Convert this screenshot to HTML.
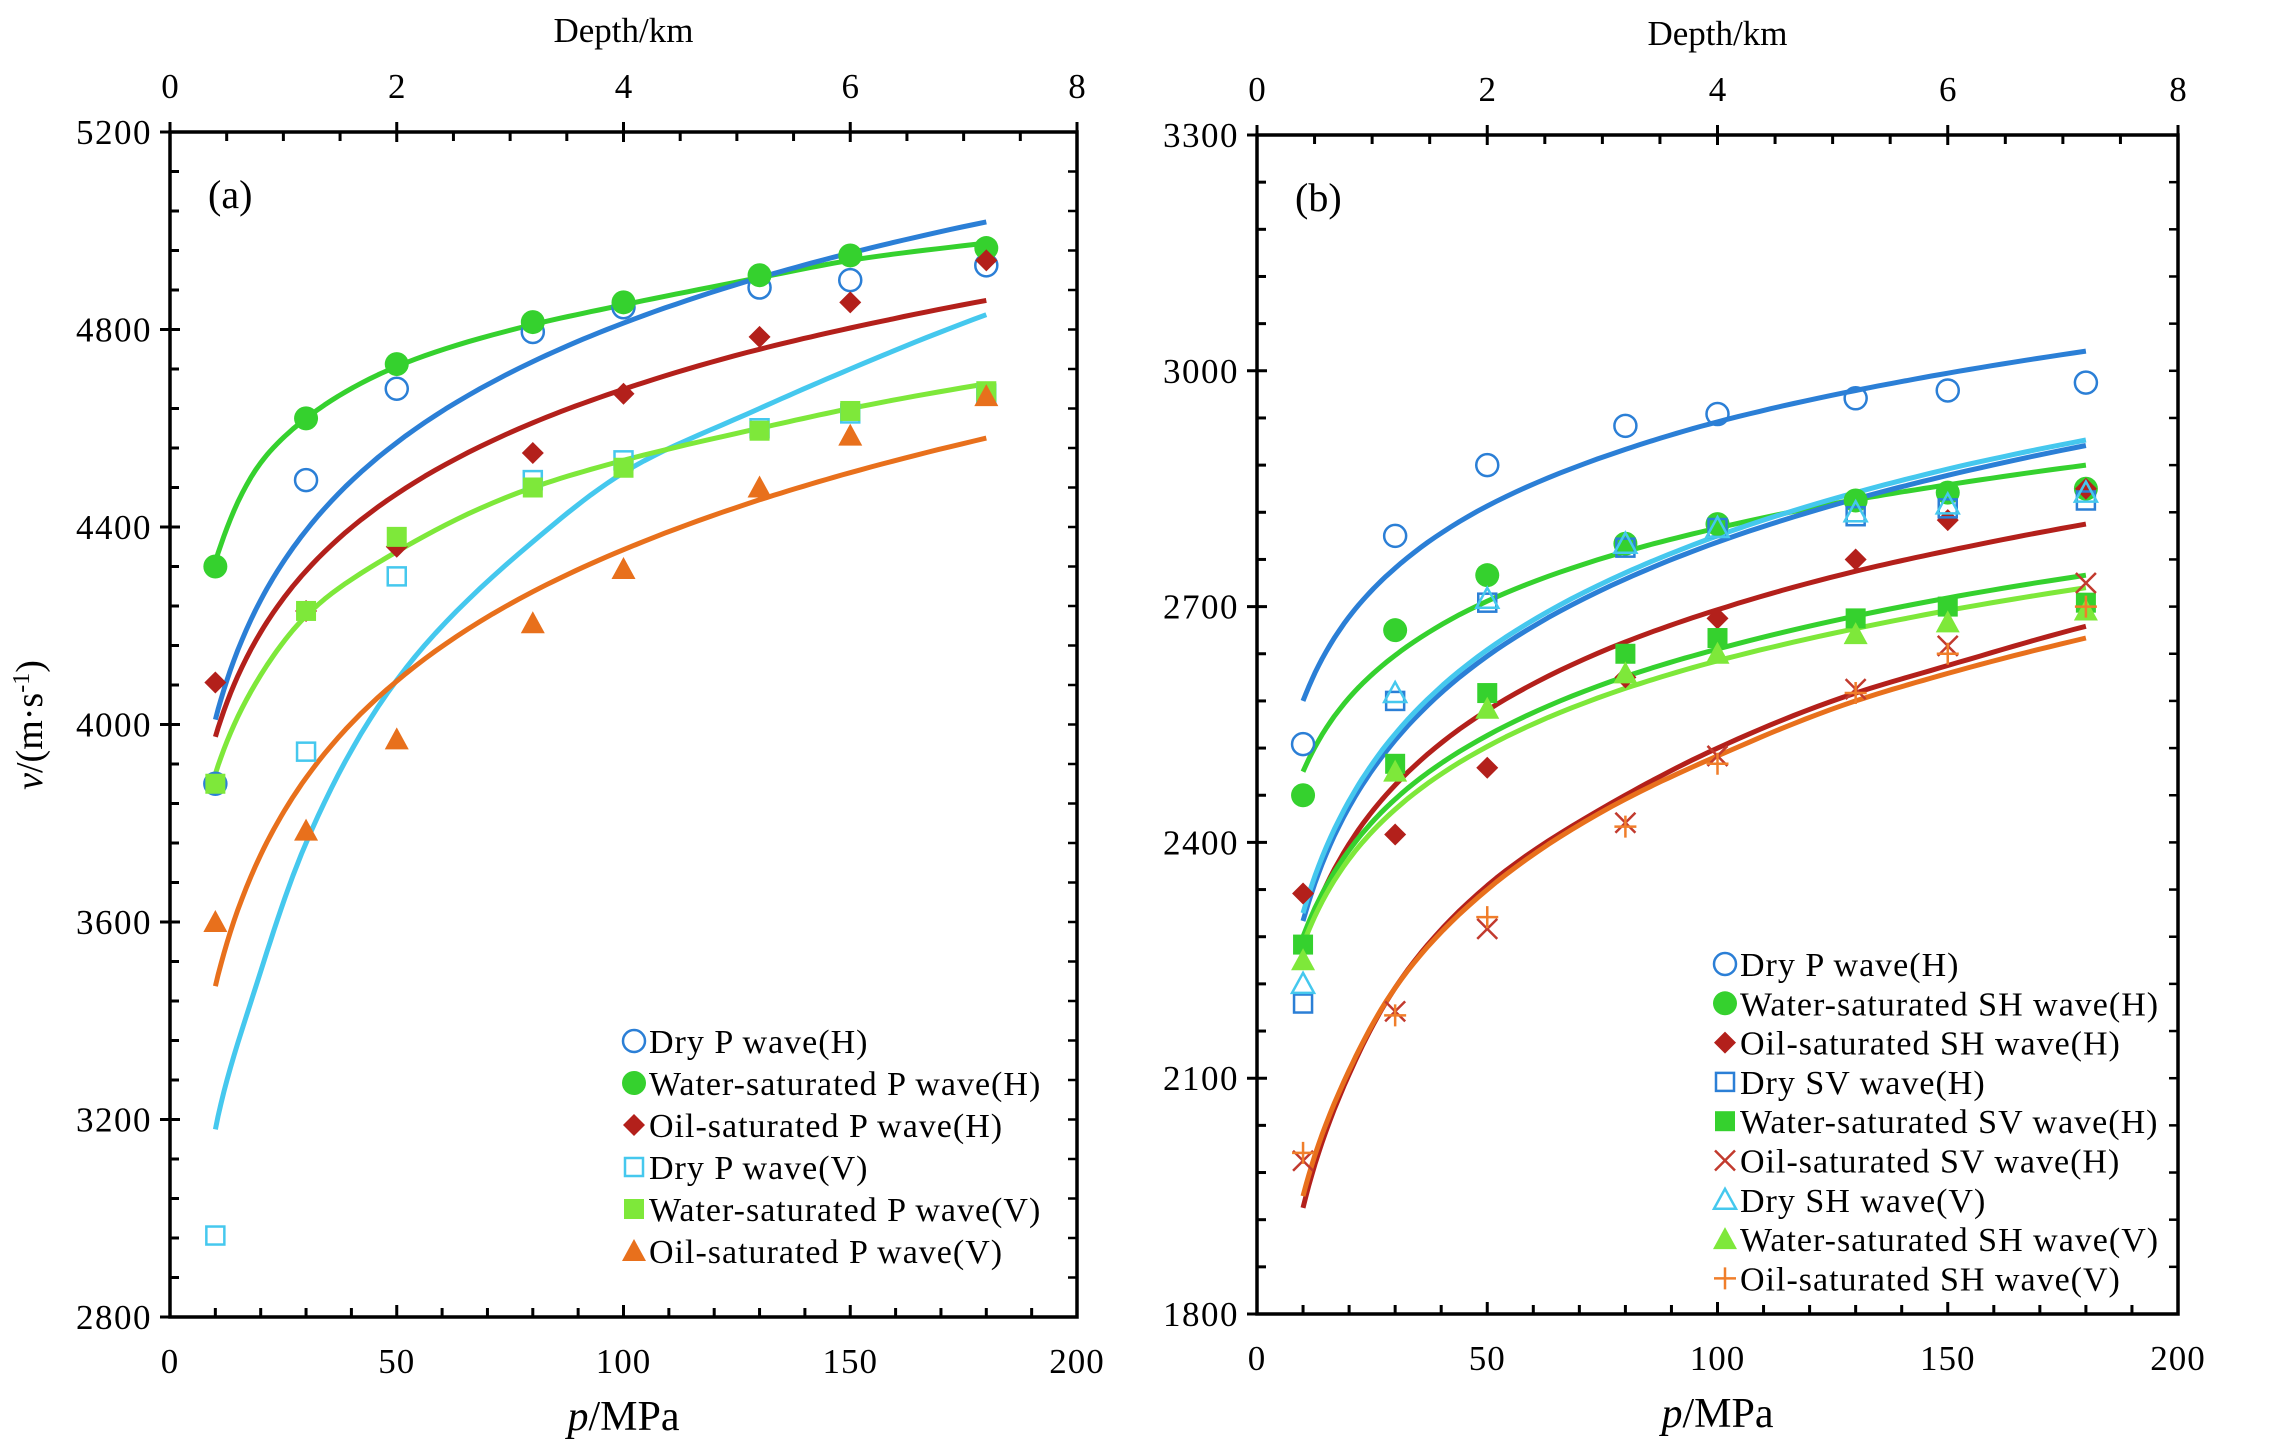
<!DOCTYPE html>
<html><head><meta charset="utf-8"><style>
html,body{margin:0;padding:0;background:#fff;}
svg{display:block;font-family:"Liberation Serif",serif;}
</style></head><body>
<svg id="chart" width="2284" height="1449" viewBox="0 0 2284 1449" xmlns="http://www.w3.org/2000/svg"></svg>
<script>
const pressures = [10,30,50,80,100,130,150,180];
const curveP = [10,20,30,50,80,100,130,150,180];
// panel a measured values
const aDryPH   = [3880,4495,4680,4795,4845,4885,4900,4930];
const aWatPH   = [4320,4620,4730,4815,4855,4910,4950,4965];
const aOilPH   = [4085,4230,4360,4550,4670,4785,4855,4940];
const aDryPV   = [2965,3945,4300,4495,4535,4600,4630,4670];
const aWatPV   = [3880,4230,4380,4480,4520,4595,4635,4675];
const aOilPV   = [3600,3785,3970,4205,4315,4480,4585,4665];
// panel a fit curves
const aDryPHfit = [4010,4252,4393,4571,4735,4813,4905,4955,5018];
const aWatPHfit = [4330,4530,4620,4725,4810,4850,4905,4940,4975];
const aOilPHfit = [3975,4187,4311,4467,4611,4679,4760,4803,4859];
const aDryPVfit = [3180,3500,3760,4090,4370,4510,4640,4720,4830];
const aWatPVfit = [3900,4100,4220,4350,4480,4535,4600,4640,4690];
const aOilPVfit = [3470,3736,3892,4088,4269,4354,4455,4510,4580];
// panel b measured values
const bDryPH  = [2525,2790,2880,2930,2945,2965,2975,2985];
const bWatSHH = [2460,2670,2740,2780,2805,2835,2845,2850];
const bOilSHH = [2335,2410,2495,2610,2685,2760,2810,2850];
const bDrySVH = [2195,2580,2705,2775,2800,2815,2825,2835];
const bWatSVH = [2270,2500,2590,2640,2660,2685,2700,2705];
const bOilSVH = [1995,2185,2290,2425,2510,2595,2650,2730];
const bDrySHV = [2220,2590,2710,2780,2800,2820,2830,2845];
const bWatSHV = [2250,2490,2570,2615,2640,2665,2680,2695];
const bOilSHV = [2005,2180,2305,2420,2500,2590,2640,2700];
// panel b fit curves
const bDryPHfit  = [2580,2687,2749,2828,2900,2935,2975,2997,3025];
const bWatSHHfit = [2490,2584,2638,2707,2770,2800,2836,2855,2880];
const bDrySVHfit = [2300,2445,2530,2637,2735,2782,2837,2867,2905];
const bDrySHVfit = [2310,2453,2538,2645,2743,2790,2845,2875,2912];
const bOilSHHfit = [2270,2398,2473,2568,2655,2696,2745,2771,2805];
const bWatSVHfit = [2280,2390,2455,2536,2611,2646,2688,2711,2740];
const bWatSHVfit = [2270,2379,2442,2522,2596,2631,2672,2695,2724];
const bOilSVHfit = [1935,2105,2215,2345,2460,2520,2590,2625,2675];
const bOilSHVfit = [1950,2110,2215,2340,2455,2510,2580,2615,2660];
const xTicks = [0,50,100,150,200];
const depthTicks = [0,2,4,6,8];
const aYTicks = [2800,3200,3600,4000,4400,4800,5200];
const bYTicks = [1800,2100,2400,2700,3000,3300];

const NS="http://www.w3.org/2000/svg";
const svg=document.getElementById('chart');
function el(tag,attrs,parent){const e=document.createElementNS(NS,tag);for(const k in attrs)e.setAttribute(k,attrs[k]);(parent||svg).appendChild(e);return e;}

const C={blue:'#2b7fd6',green:'#35d12e',dred:'#b3201b',cyan:'#45c8ee',lgreen:'#7ee83a',orange:'#e8701c',xred:'#c23a2e',porange:'#f07e2a'};

function marker(g,type,cx,cy,color){
  const s=11;let m;
  if(type==='ocircle') m=el('circle',{cx,cy,r:s,fill:'none',stroke:color,'stroke-width':2.5},g);
  else if(type==='circle') m=el('circle',{cx,cy,r:s+1,fill:color},g);
  else if(type==='diamond') m=el('polygon',{points:`${cx},${cy-s} ${cx+s},${cy} ${cx},${cy+s} ${cx-s},${cy}`,fill:color},g);
  else if(type==='osquare') m=el('rect',{x:cx-9,y:cy-9,width:18,height:18,fill:'none',stroke:color,'stroke-width':2.5},g);
  else if(type==='square') m=el('rect',{x:cx-10,y:cy-10,width:20,height:20,fill:color},g);
  else if(type==='triangle') m=el('polygon',{points:`${cx},${cy-12} ${cx+12},${cy+10} ${cx-12},${cy+10}`,fill:color},g);
  else if(type==='otriangle') m=el('polygon',{points:`${cx},${cy-11} ${cx+11},${cy+9} ${cx-11},${cy+9}`,fill:'none',stroke:color,'stroke-width':2.5},g);
  else if(type==='x') m=el('path',{d:`M${cx-10},${cy-10}L${cx+10},${cy+10}M${cx+10},${cy-10}L${cx-10},${cy+10}`,stroke:color,'stroke-width':2.5,fill:'none'},g);
  else if(type==='plus') m=el('path',{d:`M${cx-11},${cy}L${cx+11},${cy}M${cx},${cy-11}L${cx},${cy+11}`,stroke:color,'stroke-width':2.5,fill:'none'},g);
  return m;
}
function curvePath(vals,X,Y){
  const t=curveP.map(p=>Math.log(p));
  const n=t.length;
  const sec=[];for(let i=0;i<n-1;i++)sec.push((vals[i+1]-vals[i])/(t[i+1]-t[i]));
  const m=[];for(let i=0;i<n;i++){
    if(i===0)m.push(sec[0]);else if(i===n-1)m.push(sec[n-2]);
    else m.push((sec[i-1]*(t[i+1]-t[i])+sec[i]*(t[i]-t[i-1]))/(t[i+1]-t[i-1]));
  }
  let d='';
  for(let i=0;i<n-1;i++){
    const h=t[i+1]-t[i];
    for(let k=0;k<=12;k++){
      if(i>0&&k===0)continue;
      const s=k/12,s2=s*s,s3=s2*s;
      const v=(2*s3-3*s2+1)*vals[i]+(s3-2*s2+s)*h*m[i]+(-2*s3+3*s2)*vals[i+1]+(s3-s2)*h*m[i+1];
      const p=Math.exp(t[i]+s*h);
      d+=(d?'L':'M')+X(p).toFixed(1)+','+Y(v).toFixed(1);
    }
  }
  return d;
}

function panel(cfg){
  const {x0,x1,y0,y1,ymin,ymax,yTicks,yMinor,name}=cfg;
  const g=el('g',{});
  
  
  const X=p=>x0+(p/200)*(x1-x0);
  const Y=v=>y1-(v-ymin)/(ymax-ymin)*(y1-y0);
  cfg.curves.forEach(c=>{
    const path=el('path',{d:curvePath(c.vals,X,Y),fill:'none',stroke:c.color,'stroke-width':5,'stroke-linejoin':'round'},g);
    
    
  });
  cfg.series.forEach(s=>{
    const sg=el('g',{},g);
    
    
    pressures.forEach((p,i)=>marker(sg,s.type,X(p),Y(s.vals[i]),s.color));
  });
  const box=el('rect',{x:x0,y:y0,width:x1-x0,height:y1-y0,fill:'none',stroke:'#000','stroke-width':3.5},g);
  
  
  for(let p=0;p<=200;p+=10){
    const major=p%50===0;
    el('line',{x1:X(p),x2:X(p),y1:y1,y2:y1-(major?12:9),stroke:'#000','stroke-width':3},g);
  }
  xTicks.forEach(p=>{
    const t=el('text',{x:X(p),y:y1+56,'font-size':35,'letter-spacing':1,'text-anchor':'middle'},g);t.textContent=p;
    
  });
  for(let d=0;d<=8;d+=0.5){
    const major=d%2===0;
    el('line',{x1:X(d*25),x2:X(d*25),y1:y0+(major?-10:0),y2:y0+(major?10:9),stroke:'#000','stroke-width':3},g);
  }
  depthTicks.forEach(d=>{
    const t=el('text',{x:X(d*25),y:y0-34,'font-size':35,'text-anchor':'middle'},g);t.textContent=d;
    
  });
  for(let v=ymin;v<=ymax+0.1;v+=yMinor){
    const major=yTicks.indexOf(Math.round(v))>=0;
    el('line',{x1:x0-(major?10:0),x2:x0+(major?10:9),y1:Y(v),y2:Y(v),stroke:'#000','stroke-width':3},g);
    el('line',{x1:x1-9,x2:x1,y1:Y(v),y2:Y(v),stroke:'#000','stroke-width':2.5},g);
  }
  yTicks.forEach(v=>{
    const t=el('text',{x:x0-18,y:Y(v)+12,'font-size':35,'letter-spacing':1.5,'text-anchor':'end'},g);t.textContent=v;
    
  });
  const lbl=el('text',{x:x0+38,y:y0+76,'font-size':40},g);lbl.textContent=cfg.label;
  
  const dt=el('text',{x:(x0+x1)/2,y:y0-90,'font-size':35,'text-anchor':'middle'},g);dt.textContent='Depth/km';
  
  const xt=el('text',{x:(x0+x1)/2,y:y1+113,'font-size':42,'text-anchor':'middle'},g);
  xt.innerHTML='<tspan font-style="italic">p</tspan>/MPa';
  
  const lg=el('g',{},g);
  
  
  cfg.series.forEach((s,i)=>{
    const yy=cfg.legY+i*cfg.legStep;
    const eg=el('g',{},lg);
    
    
    marker(eg,s.type,cfg.legX,yy,s.color);
    const t=el('text',{x:cfg.legX+15,y:yy+12,'font-size':cfg.legFont,'letter-spacing':1.0},eg);t.textContent=s.label;
  });
}

panel({name:'panel-a',x0:170,x1:1077,y0:132,y1:1317,ymin:2800,ymax:5200,yTicks:aYTicks,yMinor:80,label:'(a)',
  legX:634,legY:1041,legStep:42,legFont:34,
  curves:[
    {name:'water-p-h',vals:aWatPHfit,color:C.green},
    {name:'dry-p-h',vals:aDryPHfit,color:C.blue},
    {name:'oil-p-h',vals:aOilPHfit,color:C.dred},
    {name:'dry-p-v',vals:aDryPVfit,color:C.cyan},
    {name:'water-p-v',vals:aWatPVfit,color:C.lgreen},
    {name:'oil-p-v',vals:aOilPVfit,color:C.orange}],
  series:[
    {name:'dry-p-h',label:'Dry P wave(H)',type:'ocircle',vals:aDryPH,color:C.blue},
    {name:'water-p-h',label:'Water-saturated P wave(H)',type:'circle',vals:aWatPH,color:C.green},
    {name:'oil-p-h',label:'Oil-saturated P wave(H)',type:'diamond',vals:aOilPH,color:C.dred},
    {name:'dry-p-v',label:'Dry P wave(V)',type:'osquare',vals:aDryPV,color:C.cyan},
    {name:'water-p-v',label:'Water-saturated P wave(V)',type:'square',vals:aWatPV,color:C.lgreen},
    {name:'oil-p-v',label:'Oil-saturated P wave(V)',type:'triangle',vals:aOilPV,color:C.orange}]
});
panel({name:'panel-b',x0:1257,x1:2178,y0:135,y1:1314,ymin:1800,ymax:3300,yTicks:bYTicks,yMinor:60,label:'(b)',
  legX:1725,legY:964,legStep:39.3,legFont:34,
  curves:[
    {name:'dry-p-h',vals:bDryPHfit,color:C.blue},
    {name:'water-sh-h',vals:bWatSHHfit,color:C.green},
    {name:'dry-sv-h',vals:bDrySVHfit,color:C.blue},
    {name:'dry-sh-v',vals:bDrySHVfit,color:C.cyan},
    {name:'oil-sh-h',vals:bOilSHHfit,color:C.dred},
    {name:'water-sv-h',vals:bWatSVHfit,color:C.green},
    {name:'water-sh-v',vals:bWatSHVfit,color:C.lgreen},
    {name:'oil-sv-h',vals:bOilSVHfit,color:C.dred},
    {name:'oil-sh-v',vals:bOilSHVfit,color:C.orange}],
  series:[
    {name:'dry-p-h',label:'Dry P wave(H)',type:'ocircle',vals:bDryPH,color:C.blue},
    {name:'water-sh-h',label:'Water-saturated SH wave(H)',type:'circle',vals:bWatSHH,color:C.green},
    {name:'oil-sh-h',label:'Oil-saturated SH wave(H)',type:'diamond',vals:bOilSHH,color:C.dred},
    {name:'dry-sv-h',label:'Dry SV wave(H)',type:'osquare',vals:bDrySVH,color:C.blue},
    {name:'water-sv-h',label:'Water-saturated SV wave(H)',type:'square',vals:bWatSVH,color:C.green},
    {name:'oil-sv-h',label:'Oil-saturated SV wave(H)',type:'x',vals:bOilSVH,color:C.xred},
    {name:'dry-sh-v',label:'Dry SH wave(V)',type:'otriangle',vals:bDrySHV,color:C.cyan},
    {name:'water-sh-v',label:'Water-saturated SH wave(V)',type:'triangle',vals:bWatSHV,color:C.lgreen},
    {name:'oil-sh-v',label:'Oil-saturated SH wave(V)',type:'plus',vals:bOilSHV,color:C.porange}]
});
const yt=el('text',{x:0,y:0,'font-size':38,'text-anchor':'middle',transform:'translate(42,725) rotate(-90)'});
yt.innerHTML='<tspan font-style="italic">v</tspan>/(m·s<tspan dy="-13" font-size="24">-1</tspan><tspan dy="13">)</tspan>';


</script>
</body></html>
